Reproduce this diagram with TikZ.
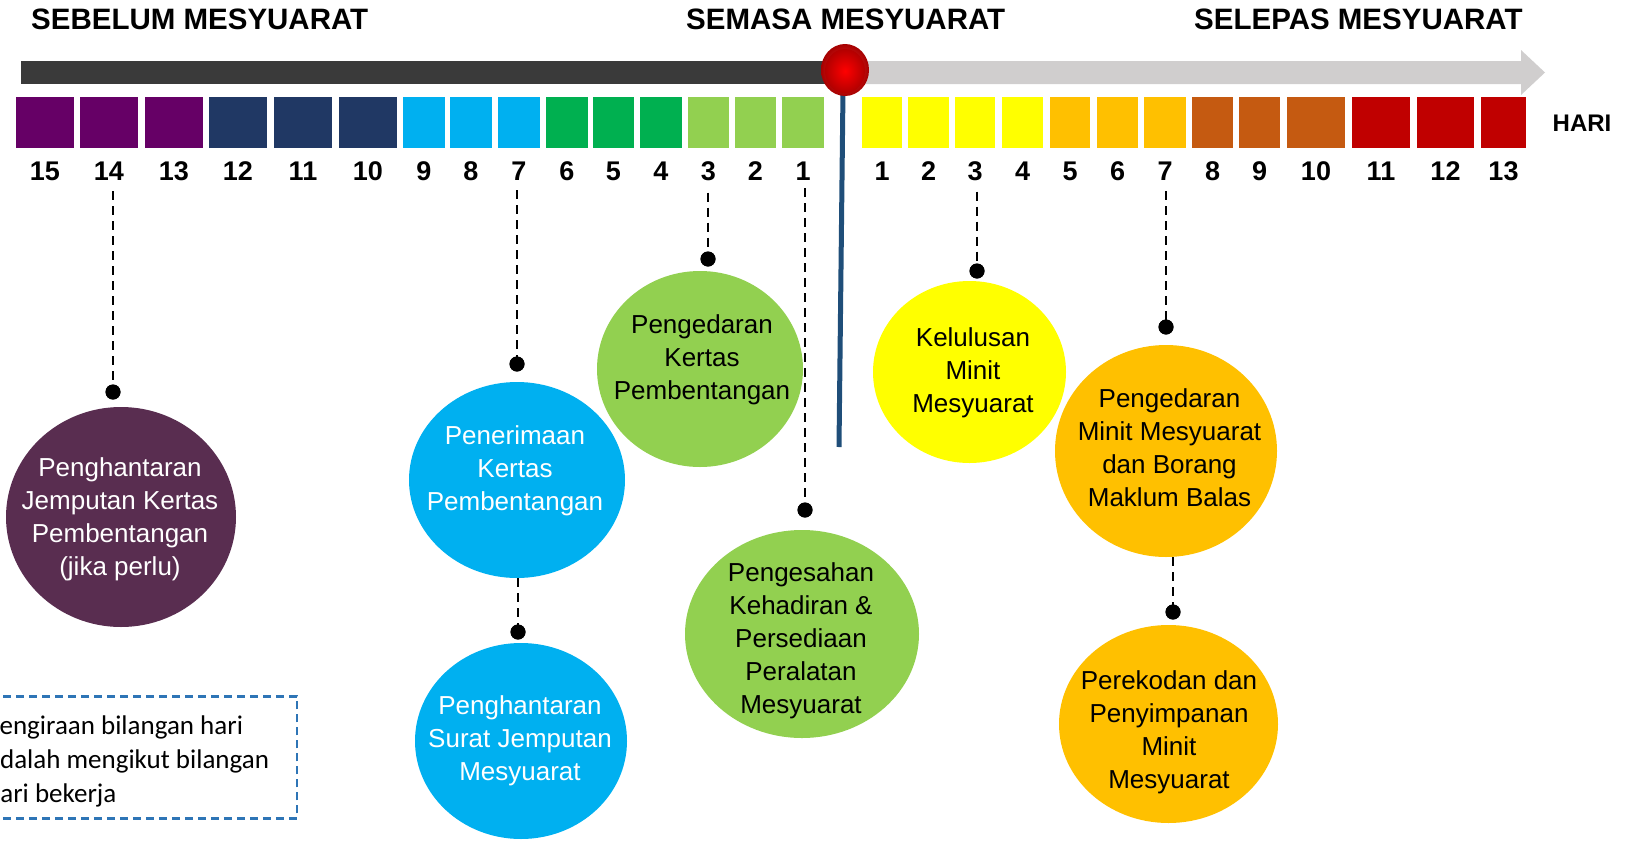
\documentclass[tikz,border=0pt]{standalone}
\usepackage{fontspec}
\setmainfont{Liberation Sans}
\newfontfamily\arialf{Liberation Sans}
\newfontfamily\calib{Carlito}
\usetikzlibrary{shapes.geometric,calc}
\definecolor{cDark}{HTML}{3A3A3A}
\definecolor{cLight}{HTML}{D0CECE}
\definecolor{cPurple}{HTML}{660066}
\definecolor{cNavy}{HTML}{203864}
\definecolor{cSky}{HTML}{00B0F0}
\definecolor{cGreen}{HTML}{00B050}
\definecolor{cLime}{HTML}{92D050}
\definecolor{cYellow}{HTML}{FFFF00}
\definecolor{cOrange}{HTML}{FFC000}
\definecolor{cBrown}{HTML}{C55A11}
\definecolor{cRed}{HTML}{C00000}
\definecolor{cPlum}{HTML}{592D50}
\definecolor{cPin}{HTML}{1F4E79}
\definecolor{cNote}{HTML}{2E75B6}
\begin{document}
\begin{tikzpicture}[x=1pt,y=-1pt,
  sq/.style={rectangle, draw=none, inner sep=0, minimum height=51pt},
  num/.style={font=\arialf\bfseries\fontsize{27}{27}\selectfont, anchor=base, inner sep=0},
  ttl/.style={font=\arialf\bfseries\fontsize{29.5}{29.5}\selectfont, anchor=base west, inner sep=0},
  dl/.style={draw=black, line width=2.5pt, dash pattern=on 9pt off 6pt},
  dotn/.style={circle, fill=black, inner sep=0, minimum size=15pt},
  bub/.style={ellipse, draw=none, inner sep=0},
  ctext/.style={align=center, font=\arialf\fontsize{26}{33}\selectfont, inner sep=0},
  notetxt/.style={font=\calib\fontsize{27}{34}\selectfont, anchor=base west, inner sep=0},
  pinline/.style={draw=cPin, line width=5pt}]
\useasboundingbox (0,0) rectangle (1631,841);

% titles
\node[ttl] (t1) at (31,29) {SEBELUM MESYUARAT};
\node[ttl] (t2) at (686,29) {SEMASA MESYUARAT};
\node[ttl] (t3) at (1194,29) {SELEPAS MESYUARAT};

% time bar
\fill[cDark] (21,61) rectangle (846,84);
\fill[cLight] (846,61) -- (1521,61) -- (1521,50) -- (1545,72.5) -- (1521,95) -- (1521,84) -- (846,84) -- cycle;

% pin
\coordinate (pinend) at (839,447);
\node[ellipse, inner sep=0, minimum width=48pt, minimum height=52pt] (pinhead) at (845,70) {};
\draw[pinline] (843,90) -- (pinend);
\shade[inner color=red!80!white, outer color=red!65!black, shading=radial] (845,70) ellipse [x radius=24, y radius=26];
\shade[inner color=red, outer color=red!70!black, shading=radial] (845,71) ellipse [x radius=20, y radius=22];

% squares and numbers (before)
\foreach \n/\cx/\w/\c in {15/45/58/cPurple,14/109/58/cPurple,13/174/58/cPurple,
  12/238/58/cNavy,11/303/58/cNavy,10/368/58/cNavy,
  9/424/42/cSky,8/471/42/cSky,7/519/42/cSky,
  6/567/42/cGreen,5/613.5/41/cGreen,4/661/42/cGreen,
  3/708.5/41/cLime,2/755.5/41/cLime,1/803/42/cLime}{
  \node[sq, fill=\c, minimum width=\w pt] (L\n) at (\cx,122.5) {};
  \node[num] (nL\n) at (\cx,180) {\n};
}
% squares and numbers (after)
\foreach \n/\cx/\w/\c in {1/882/40/cYellow,2/928.5/41/cYellow,3/975/40/cYellow,4/1022.5/41/cYellow,
  5/1070/40/cOrange,6/1117.5/41/cOrange,7/1165/42/cOrange,
  8/1212.5/41/cBrown,9/1259.5/41/cBrown,10/1316/58/cBrown,
  11/1381/58/cRed,12/1445.5/57/cRed,13/1503.5/45/cRed}{
  \node[sq, fill=\c, minimum width=\w pt] (R\n) at (\cx,122.5) {};
  \node[num] (nR\n) at (\cx,180) {\n};
}
\node[font=\arialf\bfseries\fontsize{24}{24}\selectfont, inner sep=0] (hari) at (1582,123) {HARI};

% bubbles
\node[bub, fill=cPlum, minimum width=230pt, minimum height=220pt] (cA) at (121,517) {};
\node[bub, fill=cSky, minimum width=216pt, minimum height=196pt] (cB) at (517,480) {};
\node[bub, fill=cSky, minimum width=212pt, minimum height=196pt] (cC) at (521,741) {};
\node[bub, fill=cLime, minimum width=206pt, minimum height=196pt] (cD) at (700,369) {};
\node[bub, fill=cLime, minimum width=234pt, minimum height=208pt] (cE) at (802,634) {};
\node[bub, fill=cYellow, minimum width=193pt, minimum height=182pt] (cF) at (969.5,372) {};
\node[bub, fill=cOrange, minimum width=222pt, minimum height=212pt] (cG) at (1166,451) {};
\node[bub, fill=cOrange, minimum width=219pt, minimum height=198pt] (cH) at (1168.5,724) {};

\node[ctext, text=white] (tA) at (120,519) {Penghantaran\\Jemputan Kertas\\Pembentangan\\(jika perlu)};
\node[ctext, text=white] (tB) at (515,471) {Penerimaan\\Kertas\\Pembentangan};
\node[ctext, text=white] (tC) at (520,741) {Penghantaran\\Surat Jemputan\\Mesyuarat};
\node[ctext] (tD) at (702,359.5) {Pengedaran\\Kertas\\Pembentangan};
\node[ctext] (tE) at (801,640.5) {Pengesahan\\Kehadiran \&\\Persediaan\\Peralatan\\Mesyuarat};
\node[ctext] (tF) at (973,373) {Kelulusan\\Minit\\Mesyuarat};
\node[ctext] (tG) at (1169.5,447.5) {Pengedaran\\Minit Mesyuarat\\dan Borang\\Maklum Balas};
\node[ctext] (tH) at (1169,732) {Perekodan dan\\Penyimpanan\\Minit\\Mesyuarat};

% dots
\node[dotn] (d14) at (113,392) {};
\node[dotn] (d7a) at (517,364) {};
\node[dotn] (d7b) at (518,632) {};
\node[dotn] (d3L) at (708,259) {};
\node[dotn] (d1L) at (805,510) {};
\node[dotn] (d3R) at (977,271) {};
\node[dotn] (d7R) at (1166,327) {};
\node[dotn] (d7Rb) at (1173,612) {};

% dashed connectors
\draw[dl, shorten <=11pt] (d14 |- nL14.south) -- (d14.center);
\draw[dl, shorten <=10pt] (d7a |- nL7.south) -- (d7a.center);
\draw[dl, shorten <=12pt] (d3L |- nL3.south) -- (d3L.center);
\draw[dl, shorten <=8pt] (d1L |- nL1.south) -- (d1L.center);
\draw[dl, shorten <=11pt] (d3R |- nR3.south) -- (d3R.center);
\draw[dl, shorten <=11pt] (d7R |- nR7.south) -- (d7R.center);
\draw[dl] (d7b |- cB.south) -- (d7b.center);
\draw[dl] (d7Rb |- cG.south) -- (d7Rb.center);
\foreach \d in {d14,d7a,d7b,d3L,d1L,d3R,d7R,d7Rb}{\node[dotn] at (\d) {};}

% note box (cut at left edge, as in the reference)
\node[draw=cNote, line width=2.5pt, dash pattern=on 8pt off 5pt, rectangle, inner sep=0,
  minimum width=320pt, minimum height=122pt, anchor=north east] (note) at (298,695) {};
\node[notetxt] (n1) at (-14,734) {Pengiraan bilangan hari};
\node[notetxt] (n2) at (-13,768) {adalah mengikut bilangan};
\node[notetxt] (n3) at (-14,802) {hari bekerja};
\end{tikzpicture}
\end{document}
